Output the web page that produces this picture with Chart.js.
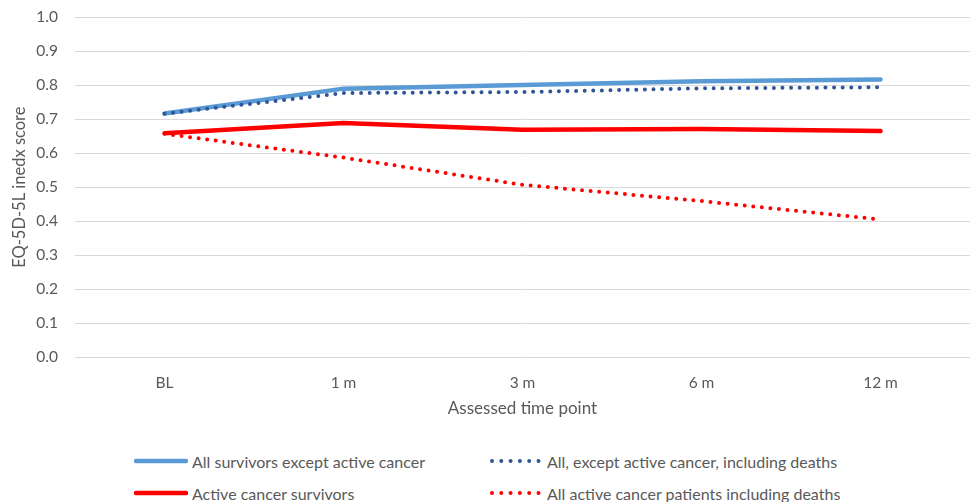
<!DOCTYPE html>
<html>
<head>
<meta charset="utf-8">
<script src="https://cdn.jsdelivr.net/npm/chart.js@4"></script>
<style>
  body { margin: 0; background: #fff; font-family: Lato, sans-serif; }
  #wrap { position: relative; width: 971px; height: 502px; overflow: hidden; }
  #box { position: absolute; left: 0; top: -9px; width: 971px; height: 449px; }
  .lg { position: absolute; display: flex; align-items: center; font-size: 16px; color: #595959; white-space: nowrap; }
  .lg svg { margin-right: 4px; }
</style>
</head>
<body>
<div id="wrap">
  <div id="box"><canvas id="chart"></canvas></div>
  <div id="legend"></div>
</div>
<script>
// time points
const timePoints = ['BL', '1 m', '3 m', '6 m', '12 m'];

// EQ-5D-5L index values
const survivorsExceptActive = [0.717, 0.790, 0.801, 0.812, 0.817];
const exceptActiveWithDeaths = [0.716, 0.777, 0.780, 0.791, 0.794];
const activeSurvivors = [0.659, 0.689, 0.669, 0.671, 0.665];
const activeWithDeaths = [0.657, 0.587, 0.507, 0.459, 0.405];

const seriesNames = [
  'All survivors except active cancer',
  'All, except active cancer, including deaths',
  'Active cancer survivors',
  'All active cancer patients including deaths'
];

const yTicks = [0, 0.1, 0.2, 0.3, 0.4, 0.5, 0.6, 0.7, 0.8, 0.9, 1.0];

const lightBlue = '#5B9BD5';
const darkBlue = '#2F5597';
const red = '#FF0000';
const textGrey = '#595959';

function solid(label, data, color, order) {
  return { label: label, data: data, borderColor: color, backgroundColor: color,
    borderWidth: 4.5, pointRadius: 0, tension: 0, borderCapStyle: 'round',
    borderJoinStyle: 'round', order: order };
}
function dotted(label, data, color, order) {
  return { label: label, data: data, borderColor: color, backgroundColor: color,
    borderWidth: 4, borderDash: [0, 8.6], borderCapStyle: 'round',
    pointRadius: 0, tension: 0, order: order };
}

const ctx = document.getElementById('chart').getContext('2d');
new Chart(ctx, {
  type: 'line',
  data: {
    labels: timePoints,
    datasets: [
      solid(seriesNames[0], survivorsExceptActive, lightBlue, 1),
      dotted(seriesNames[1], exceptActiveWithDeaths, darkBlue, 0),
      solid(seriesNames[2], activeSurvivors, red, 1),
      dotted(seriesNames[3], activeWithDeaths, red, 0)
    ]
  },
  options: {
    responsive: true,
    maintainAspectRatio: false,
    animation: false,
    layout: { padding: { top: 7, right: 1, bottom: 0, left: 0 } },
    plugins: { legend: { display: false }, tooltip: { enabled: false } },
    scales: {
      x: {
        offset: true,
        grid: { display: false, drawTicks: false },
        border: { display: false },
        ticks: { color: textGrey, font: { family: 'Lato', size: 15.5 }, padding: 16.5 },
        title: { display: true, text: 'Assessed time point', color: textGrey,
          font: { family: 'Lato', size: 17 }, padding: { top: 4, bottom: 21 } },
        afterFit: function(s) { s.height = 83; }
      },
      y: {
        min: 0, max: 1,
        afterBuildTicks: function(s) { s.ticks = yTicks.map(v => ({ value: v })); },
        grid: { color: '#D9D9D9', lineWidth: 1, drawTicks: false },
        border: { display: false },
        ticks: { color: textGrey, font: { family: 'Lato', size: 15.5 }, padding: 17,
          callback: v => v.toFixed(1) },
        title: { display: true, text: 'EQ-5D-5L inedx score', color: textGrey,
          font: { family: 'Lato', size: 16.5 }, padding: { top: 10, bottom: 0 } },
        afterFit: function(s) { s.width = 75; }
      }
    }
  }
});

// legend laid out in two columns like the original
const legendItems = [
  { name: seriesNames[0], color: lightBlue, dash: false, x: 134, y: 461 },
  { name: seriesNames[1], color: darkBlue, dash: true, x: 489, y: 461 },
  { name: seriesNames[2], color: red, dash: false, x: 134, y: 493 },
  { name: seriesNames[3], color: red, dash: true, x: 489, y: 493 }
];
const legend = document.getElementById('legend');
legendItems.forEach(function(it) {
  const d = document.createElement('div');
  d.className = 'lg';
  d.style.left = it.x + 'px';
  d.style.top = (it.y - 10) + 'px';
  d.style.height = '20px';
  const stroke = it.dash
    ? '<line x1="3" y1="5" x2="50" y2="5" stroke="' + it.color + '" stroke-width="4" stroke-linecap="round" stroke-dasharray="0 9.3"/>'
    : '<line x1="2" y1="5" x2="52" y2="5" stroke="' + it.color + '" stroke-width="4.5" stroke-linecap="round"/>';
  d.innerHTML = '<svg width="54" height="10">' + stroke + '</svg><span>' + it.name + '</span>';
  legend.appendChild(d);
});
</script>
</body>
</html>
